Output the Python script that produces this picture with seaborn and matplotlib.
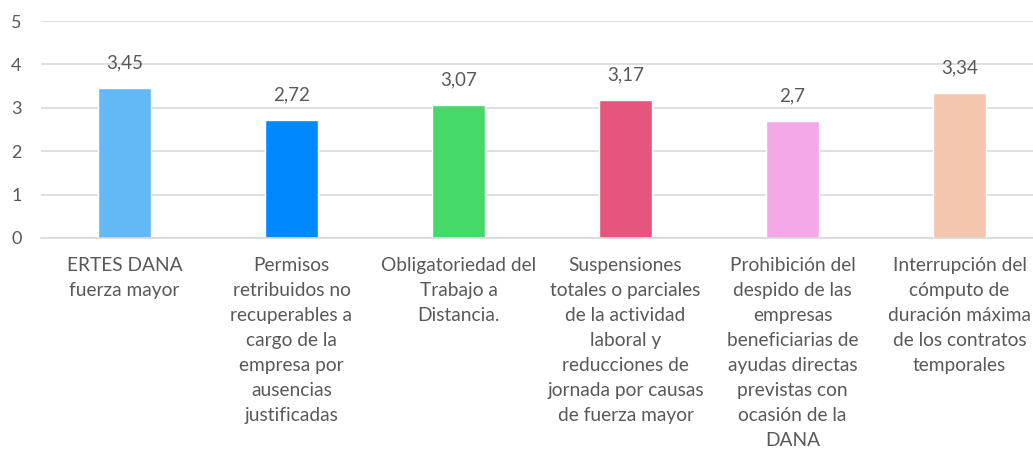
import pandas as pd
import numpy as np
import matplotlib.pyplot as plt
import seaborn as sns

categories = [
    "ERTES DANA\nfuerza mayor",
    "Permisos\nretribuidos no\nrecuperables a\ncargo de la\nempresa por\nausencias\njustificadas",
    "Obligatoriedad del\nTrabajo a\nDistancia.",
    "Suspensiones\ntotales o parciales\nde la actividad\nlaboral y\nreducciones de\njornada por causas\nde fuerza mayor",
    "Prohibición del\ndespido de las\nempresas\nbeneficiarias de\nayudas directas\nprevistas con\nocasión de la\nDANA",
    "Interrupción del\ncómputo de\nduración máxima\nde los contratos\ntemporales",
]
values = [3.45, 2.72, 3.07, 3.17, 2.7, 3.34]
colors = ["#63B9F5", "#0088FF", "#47D86A", "#E5557D", "#F5A8E8", "#F5C6AE"]

sns.set_theme(style="white")
plt.rcParams["font.family"] = ["Lato", "DejaVu Sans"]
text_color = "#595959"

df = pd.DataFrame({"cat": categories, "val": values})

fig = plt.figure(figsize=(10.33, 4.55), dpi=100)
ax = fig.add_axes([41 / 1033, 1 - 238 / 455, 1002 / 1033, 217 / 455])
sns.barplot(data=df, x="cat", y="val", hue="cat", palette=colors,
            width=0.32, saturation=1, legend=False, ax=ax)

ax.set_ylim(0, 5)
ax.set_xlim(-0.5, len(categories) - 0.5)
ax.set_yticks(range(6))
ax.yaxis.grid(True, color="#D9D9D9", linewidth=1.2)
ax.set_axisbelow(True)
for s in ["left", "right", "top"]:
    ax.spines[s].set_visible(False)
ax.spines["bottom"].set_color("#D9D9D9")
ax.spines["bottom"].set_linewidth(1.2)

ax.tick_params(axis="y", length=0, labelsize=13, labelcolor=text_color, pad=14)
ax.tick_params(axis="x", which="major", length=0, labelsize=13.8,
               labelcolor=text_color, pad=14)
ax.set_xticks(np.arange(-0.5, len(categories), 1.0), minor=True)
ax.tick_params(axis="x", which="minor", length=5, color="#D9D9D9", width=1.2)
for lbl in ax.get_xticklabels():
    lbl.set_linespacing(1.57)
    lbl.set_ha("center")
ax.set_xlabel("")
ax.set_ylabel("")

for i, v in enumerate(values):
    ax.annotate(str(v).replace(".", ","), (i, v), xytext=(0, 12),
                textcoords="offset points", ha="center", va="bottom",
                fontsize=13.5, color=text_color)

plt.savefig("out.png", dpi=100)
plt.close()
